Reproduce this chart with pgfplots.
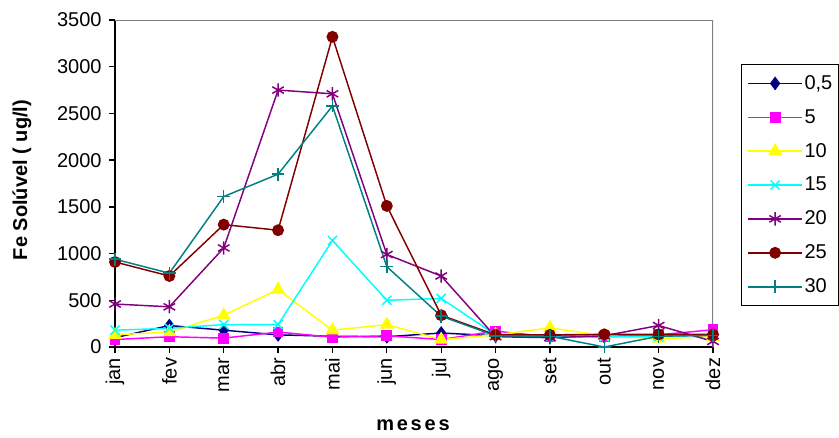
\documentclass[border=0pt]{standalone}
\usepackage{fontspec}
\setmainfont{Liberation Sans}
\newfontfamily\spaced{Liberation Sans}[LetterSpace=14]
\usepackage{pgfplots}
\pgfplotsset{compat=1.18}

\definecolor{c05}{RGB}{0,0,128}
\definecolor{c5}{RGB}{255,0,255}
\definecolor{c10}{RGB}{255,255,0}
\definecolor{c15}{RGB}{0,255,255}
\definecolor{c20}{RGB}{128,0,128}
\definecolor{c25}{RGB}{128,0,0}
\definecolor{c30}{RGB}{0,128,128}

\begin{document}
\begin{tikzpicture}
\begin{axis}[
    name=ax,
    width=448.5pt, height=245.25pt,
    scale only axis,
    xmin=0, xmax=11,
    ymin=0, ymax=3500,
    xtick={0,...,11},
    xticklabels={jan,fev,mar,abr,mai,jun,jul,ago,set,out,nov,dez},
    ytick={0,500,...,3500},
    axis x line*=bottom,
    axis y line*=left,
    axis line style={black, line width=1.5pt},
    tick align=outside,
    major tick length=4.5pt,
    tick style={black, line width=1pt},
    /pgf/number format/assume math mode=true,
    /pgf/number format/1000 sep={},
    tick label style={font=\fontsize{15}{18}\selectfont},
    yticklabel style={xshift=-2pt},
    xticklabel style={rotate=90, anchor=east, inner sep=3.5pt},
    xlabel={\spaced\bfseries meses},
    ylabel={\bfseries Fe Solúvel ( ug/l)},
    label style={font=\fontsize{15}{18}\selectfont},
    xlabel style={at={(axis description cs:0.4983,-0.2385)}, anchor=center},
    ylabel style={at={(axis description cs:-0.1555,0.5107)}, anchor=center},
    every axis plot/.append style={line width=1.1pt},
    legend cell align=left,
    legend image code/.code={
        \draw[mark repeat=2,mark phase=2,#1]
            plot coordinates {(0pt,0pt) (20.5pt,0pt) (41pt,0pt)};
    },
    legend style={
        at={(axis description cs:1.0468,0.8654)}, anchor=north west,
        draw=black, line width=1.1pt, fill=white,
        font=\fontsize{15}{18}\selectfont,
        row sep=11.5pt, inner xsep=4pt, inner ysep=7pt,
        nodes={inner sep=1pt},
    },
]
\addplot[c05, mark=diamond*, mark size=4.3pt, mark options={solid}] coordinates {
    (0,100) (1,230) (2,180) (3,130) (4,115) (5,110) (6,150) (7,120) (8,120) (9,110) (10,130) (11,120)};
\addlegendentry{0,5}
\addplot[c5, mark=square*, mark size=3.5pt] coordinates {
    (0,80) (1,110) (2,95) (3,160) (4,105) (5,120) (6,80) (7,170) (8,110) (9,110) (10,130) (11,185)};
\addlegendentry{5}
\addplot[c10, mark=triangle*, mark size=5pt] coordinates {
    (0,130) (1,160) (2,340) (3,615) (4,180) (5,240) (6,80) (7,130) (8,205) (9,120) (10,90) (11,110)};
\addlegendentry{10}
\addplot[c15, mark=x, mark size=4.8pt] coordinates {
    (0,180) (1,200) (2,240) (3,240) (4,1140) (5,500) (6,520) (7,130) (8,110) (9,110) (10,110) (11,130)};
\addlegendentry{15}
\addplot[c20, mark=asterisk, mark size=5pt] coordinates {
    (0,460) (1,430) (2,1060) (3,2750) (4,2710) (5,990) (6,760) (7,110) (8,100) (9,120) (10,230) (11,60)};
\addlegendentry{20}
\addplot[c25, mark=*, mark size=3.9pt] coordinates {
    (0,910) (1,760) (2,1310) (3,1250) (4,3320) (5,1510) (6,340) (7,130) (8,130) (9,135) (10,135) (11,135)};
\addlegendentry{25}
\addplot[c30, mark=+, mark size=4.8pt] coordinates {
    (0,940) (1,790) (2,1610) (3,1850) (4,2580) (5,860) (6,330) (7,120) (8,115) (9,0) (10,115) (11,125)};
\addlegendentry{30}
\draw[gray, line width=1.5pt] (rel axis cs:0,1) -- (rel axis cs:1,1) -- (rel axis cs:1,0);
\node[font=\fontsize{15}{18}\selectfont] at (axis description cs:1.1254,0.9235) {Prof (m)};
\end{axis}
\pgfresetboundingbox
\path ([shift={(-86.25pt,-67.5pt)}]ax.south west) rectangle ([shift={(543pt,260.25pt)}]ax.south west);
\end{tikzpicture}
\end{document}
